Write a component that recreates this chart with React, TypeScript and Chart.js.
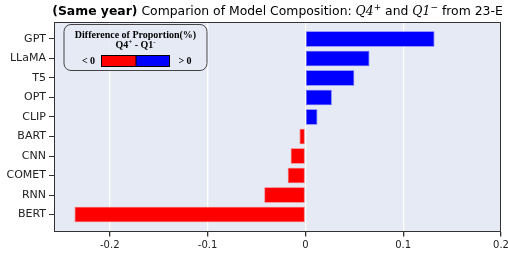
import React, { useEffect, useRef } from "react";
import { Chart, registerables } from "chart.js";

Chart.register(...registerables);

const models = ["GPT", "LLaMA", "T5", "OPT", "CLIP", "BART", "CNN", "COMET", "RNN", "BERT"];
const diffValues = [0.132, 0.0655, 0.05, 0.027, 0.0123, -0.006, -0.015, -0.018, -0.042, -0.236];
const xTicks = [-0.2, -0.1, 0, 0.1, 0.2];

const POS = "#0000ff";
const NEG = "#ff0000";
const BG = "#e5eaf5";
const FRAME = "#333333";

const decorPlugin = {
  id: "decor",
  beforeDraw(chart: any) {
    const { ctx, chartArea: a } = chart;
    ctx.save();
    ctx.fillStyle = BG;
    ctx.fillRect(a.left, a.top, a.right - a.left, a.bottom - a.top);
    ctx.restore();
  },
  afterDraw(chart: any) {
    const { ctx, chartArea: a } = chart;
    ctx.save();
    // frame
    ctx.strokeStyle = FRAME;
    ctx.lineWidth = 1;
    ctx.strokeRect(Math.round(a.left) + 0.5, Math.round(a.top) + 0.5, Math.round(a.right - a.left) - 1, Math.round(a.bottom - a.top) - 1);

    // title
    const sans = "'DejaVu Sans', sans-serif";
    const fs = 12.4;
    const segs: { t: string; f: string; dy?: number }[] = [
      { t: "(Same year)", f: `bold ${fs}px ${sans}` },
      { t: " Comparion of Model Composition: ", f: `${fs}px ${sans}` },
      { t: "Q4", f: `italic ${fs}px 'DejaVu Serif', serif` },
      { t: "+", f: `9px ${sans}`, dy: -5 },
      { t: " and ", f: `${fs}px ${sans}` },
      { t: "Q1", f: `italic ${fs}px 'DejaVu Serif', serif` },
      { t: "\u2212", f: `9px ${sans}`, dy: -5 },
      { t: " from 23-E", f: `${fs}px ${sans}` },
    ];
    let total = 0;
    const widths = segs.map((s) => {
      ctx.font = s.f;
      const w = ctx.measureText(s.t).width;
      total += w;
      return w;
    });
    let x = (a.left + a.right) / 2 - total / 2;
    ctx.fillStyle = "#000";
    ctx.textBaseline = "alphabetic";
    ctx.textAlign = "left";
    segs.forEach((s, i) => {
      ctx.font = s.f;
      ctx.fillText(s.t, x, 15 + (s.dy || 0));
      x += widths[i];
    });

    // legend box
    const bx = 64, by = 24.5, bw = 143, bh = 46, r = 7;
    ctx.beginPath();
    ctx.moveTo(bx + r, by);
    ctx.arcTo(bx + bw, by, bx + bw, by + bh, r);
    ctx.arcTo(bx + bw, by + bh, bx, by + bh, r);
    ctx.arcTo(bx, by + bh, bx, by, r);
    ctx.arcTo(bx, by, bx + bw, by, r);
    ctx.closePath();
    ctx.fillStyle = "rgba(229,234,245,0.85)";
    ctx.fill();
    ctx.strokeStyle = "#444";
    ctx.lineWidth = 1;
    ctx.stroke();

    const serif = "'Liberation Serif', 'Times New Roman', serif";
    ctx.fillStyle = "#000";
    ctx.textAlign = "center";
    ctx.textBaseline = "middle";
    const cx = bx + bw / 2;
    ctx.font = `bold 10px ${serif}`;
    ctx.fillText("Difference of Proportion(%)", cx, 35);
    const parts: { t: string; f: string; dy: number }[] = [
      { t: "Q4", f: `bold 10px ${serif}`, dy: 0 },
      { t: "+", f: `bold 7px ${serif}`, dy: -3 },
      { t: " - Q1", f: `bold 10px ${serif}`, dy: 0 },
      { t: "-", f: `bold 7px ${serif}`, dy: -3 },
    ];
    let tw = 0;
    const pw = parts.map((p) => {
      ctx.font = p.f;
      const w = ctx.measureText(p.t).width;
      tw += w;
      return w;
    });
    let px = cx - tw / 2;
    ctx.textAlign = "left";
    parts.forEach((p, i) => {
      ctx.font = p.f;
      ctx.fillText(p.t, px, 45 + p.dy);
      px += pw[i];
    });
    ctx.font = `bold 10px ${serif}`;
    ctx.textAlign = "center";
    ctx.fillText("< 0", 88.5, 61);
    ctx.fillText("> 0", 185, 61);
    ctx.fillStyle = NEG;
    ctx.fillRect(101, 55, 35, 12);
    ctx.fillStyle = POS;
    ctx.fillRect(136, 55, 34, 12);
    ctx.strokeStyle = "#000";
    ctx.strokeRect(101.5, 55.5, 68, 11);
    ctx.beginPath();
    ctx.moveTo(136, 55);
    ctx.lineTo(136, 67);
    ctx.stroke();
    ctx.restore();
  },
};

export default function App() {
  const ref = useRef<HTMLCanvasElement | null>(null);
  useEffect(() => {
    document.body.style.margin = "0";
    const canvas = ref.current!;
    const chart = new Chart(canvas, {
      type: "bar",
      data: {
        datasets: [
          {
            data: diffValues.map((v, i) => ({ x: v, y: i })),
            backgroundColor: diffValues.map((v) => (v >= 0 ? POS : NEG)),
            borderColor: diffValues.map((v) => (v >= 0 ? "rgba(90,90,255,1)" : "rgba(255,90,90,1)")),
            borderWidth: 0.8,
            borderSkipped: false,
            categoryPercentage: 1,
            barPercentage: 0.8,
          },
        ],
      },
      options: {
        indexAxis: "y",
        animation: false,
        responsive: false,
        events: [],
        layout: { padding: { left: 0, right: 0, top: 22, bottom: 0 } },
        plugins: { legend: { display: false }, tooltip: { enabled: false }, title: { display: false } },
        scales: {
          x: {
            type: "linear",
            min: -0.257,
            max: 0.2,
            offset: false,
            afterBuildTicks: (s: any) => {
              s.ticks = xTicks.map((v) => ({ value: v }));
            },
            afterFit: (s: any) => {
              s.height = 257 - 231.5;
              s.paddingRight = 7;
            },
            ticks: {
              color: "#222",
              font: { family: "'DejaVu Sans', sans-serif", size: 10 },
              padding: 3,
              callback: (v: any) => (v === 0 ? "0" : String(v)),
            },
            grid: { offset: false, color: "#ffffff", lineWidth: 1.3, tickColor: FRAME, tickLength: 5, drawTicks: true },
            border: { display: false },
          },
          y: {
            type: "linear",
            reverse: true,
            min: -0.87,
            max: 9.87,
            offset: false,
            afterBuildTicks: (s: any) => {
              s.ticks = models.map((_, i) => ({ value: i }));
            },
            afterFit: (s: any) => {
              s.width = 54;
            },
            ticks: {
              color: "#222",
              font: { family: "'DejaVu Sans', sans-serif", size: 11 },
              padding: 3,
              callback: (v: any) => models[v] ?? "",
            },
            grid: { offset: false, drawOnChartArea: false, tickColor: FRAME, tickLength: 5, drawTicks: true },
            border: { display: false },
          },
        },
      },
      plugins: [decorPlugin],
    });
    return () => chart.destroy();
  }, []);
  return (
    <div style={{ width: 508, height: 257 }}>
      <canvas ref={ref} width={508} height={257} style={{ display: "block", width: 508, height: 257 }} />
    </div>
  );
}
